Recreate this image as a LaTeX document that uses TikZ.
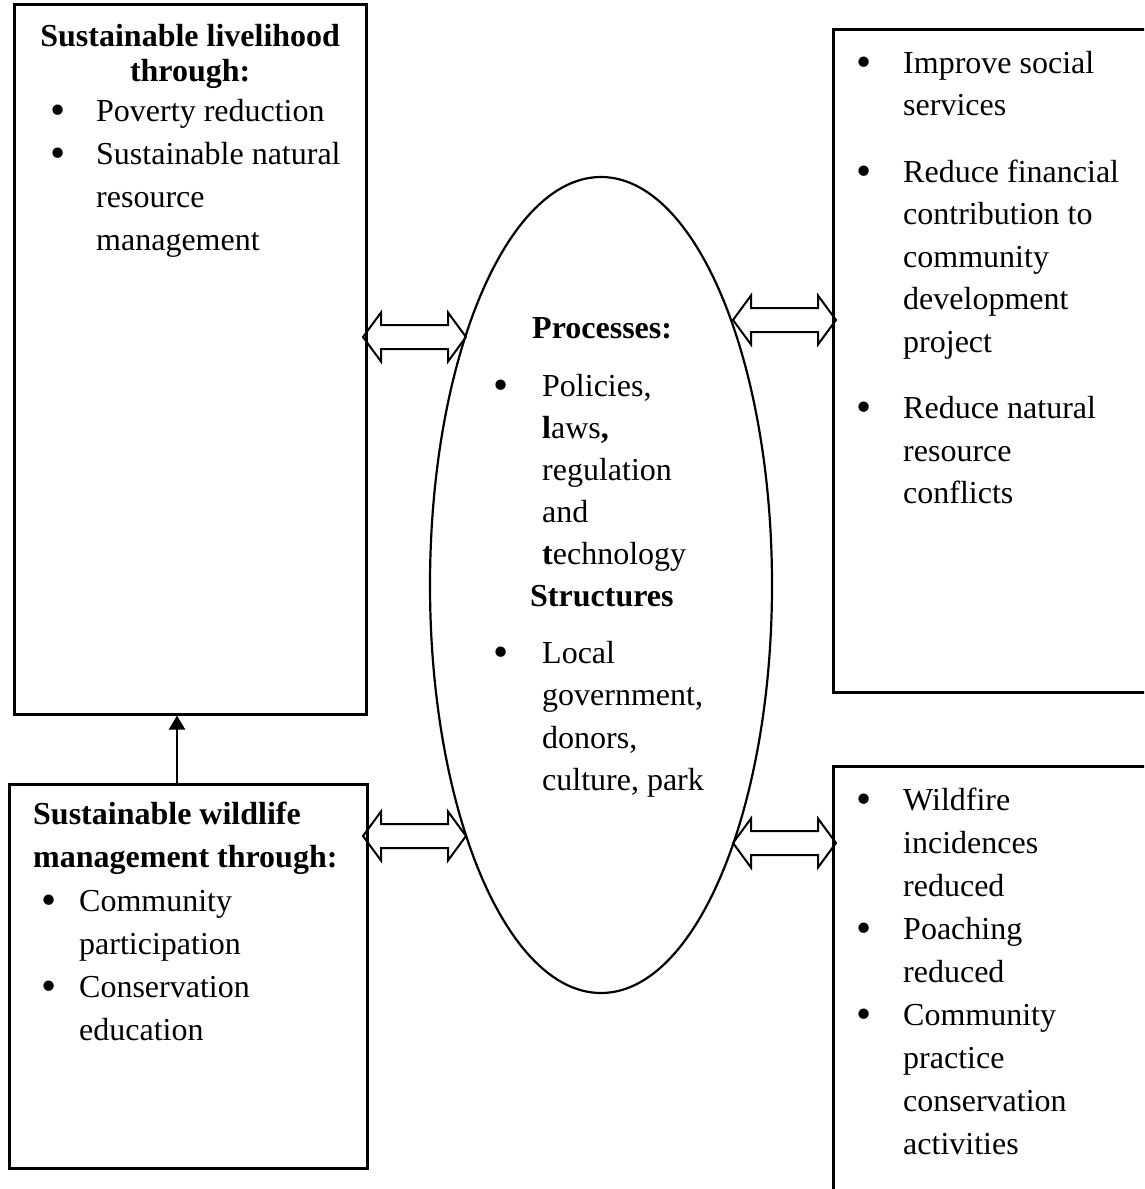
\documentclass[tikz,border=0pt]{standalone}
\usepackage{graphicx}
\usepackage{fontspec}
\setmainfont{Liberation Serif}
\usetikzlibrary{arrows.meta,calc,shapes.geometric}

%% Looks
\tikzset{
  frame/.style={draw, line width=3pt, inner sep=0pt},
  oval/.style={draw, ellipse, line width=2.2pt, inner sep=0pt},
  txt/.style={anchor=base west, inner sep=0pt},
  blockarrow/.style={draw, line width=2pt, line join=miter},
  uparrow/.style={line width=2pt, -{Triangle[width=16pt,length=14pt]}},
}
%% text block: width, line spacing, contents
\newcommand\tbox[3]{\vtop{\hsize=#1\linewidth=#1\parindent=0pt\parskip=0pt\baselineskip=#2\relax #3}}
%% bullet item with hanging indent
\newcommand\bul[1]{\par\noindent\hangindent=#1\hangafter=1\makebox[#1][l]{\raisebox{-3pt}{\scalebox{1.35}{\textbullet}}}\ignorespaces}
%% outlined left-right block arrow between two coordinates
\newcommand\blockarrowpath[2]{%
  \draw[blockarrow] (#1) -- ($(#1)+(18,-24.5)$) -- ($(#1)+(18,-12)$)
    -- ($(#2)+(-18,-12)$) -- ($(#2)+(-18,-24.5)$) -- (#2)
    -- ($(#2)+(-18,24.5)$) -- ($(#2)+(-18,12)$)
    -- ($(#1)+(18,12)$) -- ($(#1)+(18,24.5)$) -- cycle;}

\begin{document}
\begin{tikzpicture}[x=1pt,y=-1pt,every node/.style={font=\fontsize{32}{43}\selectfont}]
\useasboundingbox (0,0) rectangle (1144,1189);
\clip (0,0) rectangle (1144,1189);

%% boxes and ellipse
\node[frame, minimum width=352, minimum height=710] (liveli) at (190,359) {};
\node[frame, minimum width=358, minimum height=384] (wild) at (188,976) {};
\node[frame, minimum width=327, minimum height=663] (serv) at (996.5,360.5) {};
\node[frame, minimum width=327, minimum height=444] (fire) at (996.5,988) {};
\node[oval, minimum width=342, minimum height=816] (proc) at (601,585) {};

%% top left text
\node[txt] (livtitle) at (14,46) {\tbox{352pt}{35pt}{\centering\bfseries Sustainable livelihood\par through:}};
\node[txt] (livlist) at (50,121) {\tbox{320pt}{43pt}{\bul{46pt}Poverty reduction\bul{46pt}Sustainable natural\newline resource\newline management}};

%% bottom left text
\node[txt] (wildtitle) at (33,824) {\tbox{340pt}{43pt}{\bfseries Sustainable wildlife\par management through:}};
\node[txt] (wildlist) at (41,911) {\tbox{320pt}{43pt}{\bul{38pt}Community\newline participation\bul{38pt}Conservation\newline education}};

%% ellipse text
\node[txt] (prochead) at (532,338) {\textbf{Processes:}};
\node[txt] (proclist) at (493,396) {\tbox{250pt}{42pt}{\bul{49pt}Policies,\newline \textbf{l}aws\textbf{,}\newline regulation\newline and\newline \textbf{t}echnology}};
\node[txt] (structhead) at (530,606) {\textbf{Structures}};
\node[txt] (structlist) at (493,663) {\tbox{250pt}{42.5pt}{\bul{49pt}Local\newline government,\newline donors,\newline culture, park}};

%% right text
\node[txt] (servlist) at (856,73) {\tbox{300pt}{42.5pt}{\bul{47pt}Improve social\newline services\par\vspace{24pt}\bul{47pt}Reduce financial\newline contribution to\newline community\newline development\newline project\par\vspace{24pt}\bul{47pt}Reduce natural\newline resource\newline conflicts}};
\node[txt] (firelist) at (856,810) {\tbox{300pt}{43pt}{\bul{47pt}Wildfire\newline incidences\newline reduced\bul{47pt}Poaching\newline reduced\bul{47pt}Community\newline practice\newline conservation\newline activities}};

%% arrows
\coordinate (a1w) at (363,337); \coordinate (a1e) at (466,337);
\coordinate (a2w) at (363,836); \coordinate (a2e) at (466,836);
\coordinate (a3w) at (733,320); \coordinate (a3e) at (836,320);
\coordinate (a4w) at (733,843); \coordinate (a4e) at (836,843);
\blockarrowpath{a1w}{a1e}
\blockarrowpath{a2w}{a2e}
\blockarrowpath{a3w}{a3e}
\blockarrowpath{a4w}{a4e}
\coordinate (upx) at (177,0);
\draw[uparrow] (wild.north -| upx) -- (liveli.south -| upx);
\end{tikzpicture}
\end{document}
